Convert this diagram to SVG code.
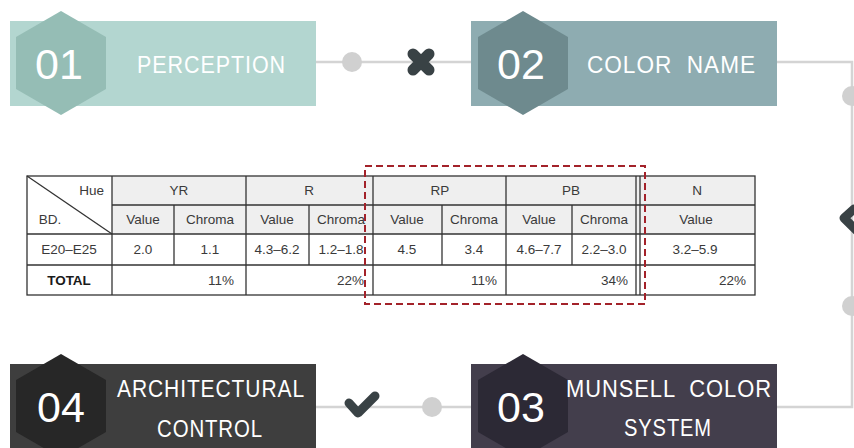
<svg xmlns="http://www.w3.org/2000/svg" width="854" height="448" viewBox="0 0 854 448">
  <defs>
    <style>
      .num { font-family: "Liberation Sans", "DejaVu Sans", sans-serif; font-size: 43px; fill: #ffffff; }
      .lbl { font-family: "Liberation Sans", "DejaVu Sans", sans-serif; font-size: 23px; fill: #ffffff; letter-spacing: 1px; }
      .conn { fill: none; stroke: #d4d4d4; stroke-width: 2.5; }
      .dot { fill: #d0d0d0; }
      .icon { fill: none; stroke: #394245; stroke-linecap: round; stroke-linejoin: round; }
      .grid { stroke: #333333; stroke-width: 1.3; fill: none; }
      .hd { fill: #efefef; }
      .t { font-family: "Liberation Sans", "DejaVu Sans", sans-serif; font-size: 13.5px; fill: #3a3a3a; text-anchor: middle; }
      .tr { font-family: "Liberation Sans", "DejaVu Sans", sans-serif; font-size: 13.5px; fill: #3a3a3a; text-anchor: end; }
      .tb { font-family: "Liberation Sans", "DejaVu Sans", sans-serif; font-size: 13.5px; fill: #1a1a1a; font-weight: bold; text-anchor: middle; }
    </style>
  </defs>
  <rect width="854" height="448" fill="#ffffff"/>

  <!-- connectors -->
  <g id="connectors">
    <path class="conn" d="M316 62 H471"/>
    <path class="conn" d="M777 62 H852 V407 H777"/>
    <path class="conn" d="M316 407 H471"/>
    <circle class="dot" cx="352" cy="62" r="10"/>
    <circle class="dot" cx="852" cy="96" r="10"/>
    <circle class="dot" cx="852" cy="306" r="10"/>
    <circle class="dot" cx="432" cy="407" r="10"/>
    <!-- cross mark -->
    <g transform="translate(421 62)">
      <path class="icon" stroke-width="11" d="M-8 -8 L8 8 M8 -8 L-8 8"/>
    </g>
    <!-- check marks -->
    <polyline class="icon" stroke-width="9" points="349,403 358,413 375,396"/>
    <g transform="translate(851 222) rotate(90)">
      <polyline class="icon" stroke-width="9" points="-13,-3 -4,7 13,-10"/>
    </g>
  </g>

  <!-- step 01 -->
  <g id="step01">
    <rect x="10" y="21" width="306" height="85" fill="#b3d6d0"/>
    <polygon points="61,11 106,37 106,89 61,115 16,89 16,37" fill="#95bdb5"/>
    <text class="num" x="59" y="79" text-anchor="middle">01</text>
    <text class="lbl" x="137" y="73" textLength="149" lengthAdjust="spacingAndGlyphs">PERCEPTION</text>
  </g>

  <!-- step 02 -->
  <g id="step02">
    <rect x="471" y="21" width="306" height="85" fill="#8eacb1"/>
    <polygon points="523,11 568,37 568,89 523,115 478,89 478,37" fill="#6e8a8e"/>
    <text class="num" x="521" y="79" text-anchor="middle">02</text>
    <text class="lbl" x="587" y="73" textLength="169" lengthAdjust="spacingAndGlyphs" xml:space="preserve">COLOR  NAME</text>
  </g>

  <!-- step 03 -->
  <g id="step03">
    <rect x="471" y="364" width="306" height="85" fill="#433e4c"/>
    <polygon points="523,354 568,380 568,432 523,458 478,432 478,380" fill="#2c2935"/>
    <text class="num" x="521" y="422" text-anchor="middle">03</text>
    <text class="lbl" x="566" y="397" textLength="206" lengthAdjust="spacingAndGlyphs" xml:space="preserve">MUNSELL  COLOR</text>
    <text class="lbl" x="624" y="436" textLength="88" lengthAdjust="spacingAndGlyphs">SYSTEM</text>
  </g>

  <!-- step 04 -->
  <g id="step04">
    <rect x="10" y="364" width="306" height="85" fill="#3e3e3e"/>
    <polygon points="61,354 106,380 106,432 61,458 16,432 16,380" fill="#272727"/>
    <text class="num" x="61" y="422" text-anchor="middle">04</text>
    <text class="lbl" x="117" y="397" textLength="188" lengthAdjust="spacingAndGlyphs">ARCHITECTURAL</text>
    <text class="lbl" x="157" y="437" textLength="106" lengthAdjust="spacingAndGlyphs">CONTROL</text>
  </g>

  <!-- hue table -->
  <g id="hue-table">
    <rect class="hd" x="112" y="176" width="643" height="58"/>
    <g class="grid">
      <rect x="27" y="176" width="728" height="119"/>
      <line x1="112" y1="205" x2="755" y2="205"/>
      <line x1="27" y1="234" x2="755" y2="234"/>
      <line x1="27" y1="265" x2="755" y2="265"/>
      <line x1="27" y1="176" x2="112" y2="234"/>
      <line x1="112" y1="176" x2="112" y2="295"/>
      <line x1="246" y1="176" x2="246" y2="295"/>
      <line x1="373" y1="176" x2="373" y2="295"/>
      <line x1="506" y1="176" x2="506" y2="295"/>
      <line x1="636" y1="176" x2="636" y2="295"/>
      <line x1="640" y1="176" x2="640" y2="295"/>
      <line x1="174" y1="205" x2="174" y2="265"/>
      <line x1="309" y1="205" x2="309" y2="265"/>
      <line x1="442" y1="205" x2="442" y2="265"/>
      <line x1="572" y1="205" x2="572" y2="265"/>
    </g>
    <text class="tr" x="104" y="195">Hue</text>
    <text class="t" x="50" y="224" fill="#1a1a1a">BD.</text>
    <text class="t" x="179" y="195">YR</text>
    <text class="t" x="309" y="195">R</text>
    <text class="t" x="440" y="195">RP</text>
    <text class="t" x="571" y="195">PB</text>
    <text class="t" x="697" y="195">N</text>
    <text class="t" x="143" y="224">Value</text>
    <text class="t" x="210" y="224">Chroma</text>
    <text class="t" x="277" y="224">Value</text>
    <text class="t" x="341" y="224">Chroma</text>
    <text class="t" x="407" y="224">Value</text>
    <text class="t" x="474" y="224">Chroma</text>
    <text class="t" x="539" y="224">Value</text>
    <text class="t" x="604" y="224">Chroma</text>
    <text class="t" x="696" y="224">Value</text>
    <text class="t" x="69" y="254">E20–E25</text>
    <text class="t" x="143" y="254">2.0</text>
    <text class="t" x="210" y="254">1.1</text>
    <text class="t" x="277" y="254">4.3–6.2</text>
    <text class="t" x="341" y="254">1.2–1.8</text>
    <text class="t" x="407" y="254">4.5</text>
    <text class="t" x="474" y="254">3.4</text>
    <text class="t" x="539" y="254">4.6–7.7</text>
    <text class="t" x="604" y="254">2.2–3.0</text>
    <text class="t" x="695" y="254">3.2–5.9</text>
    <text class="tb" x="69" y="285">TOTAL</text>
    <text class="tr" x="234" y="285">11%</text>
    <text class="tr" x="364" y="285">22%</text>
    <text class="tr" x="497" y="285">11%</text>
    <text class="tr" x="628" y="285">34%</text>
    <text class="tr" x="746" y="285">22%</text>
  </g>

  <!-- highlight frame -->
  <rect id="highlight" x="365" y="166" width="280" height="138" fill="none" stroke="#a3222a" stroke-width="2" stroke-dasharray="7 4"/>
</svg>
